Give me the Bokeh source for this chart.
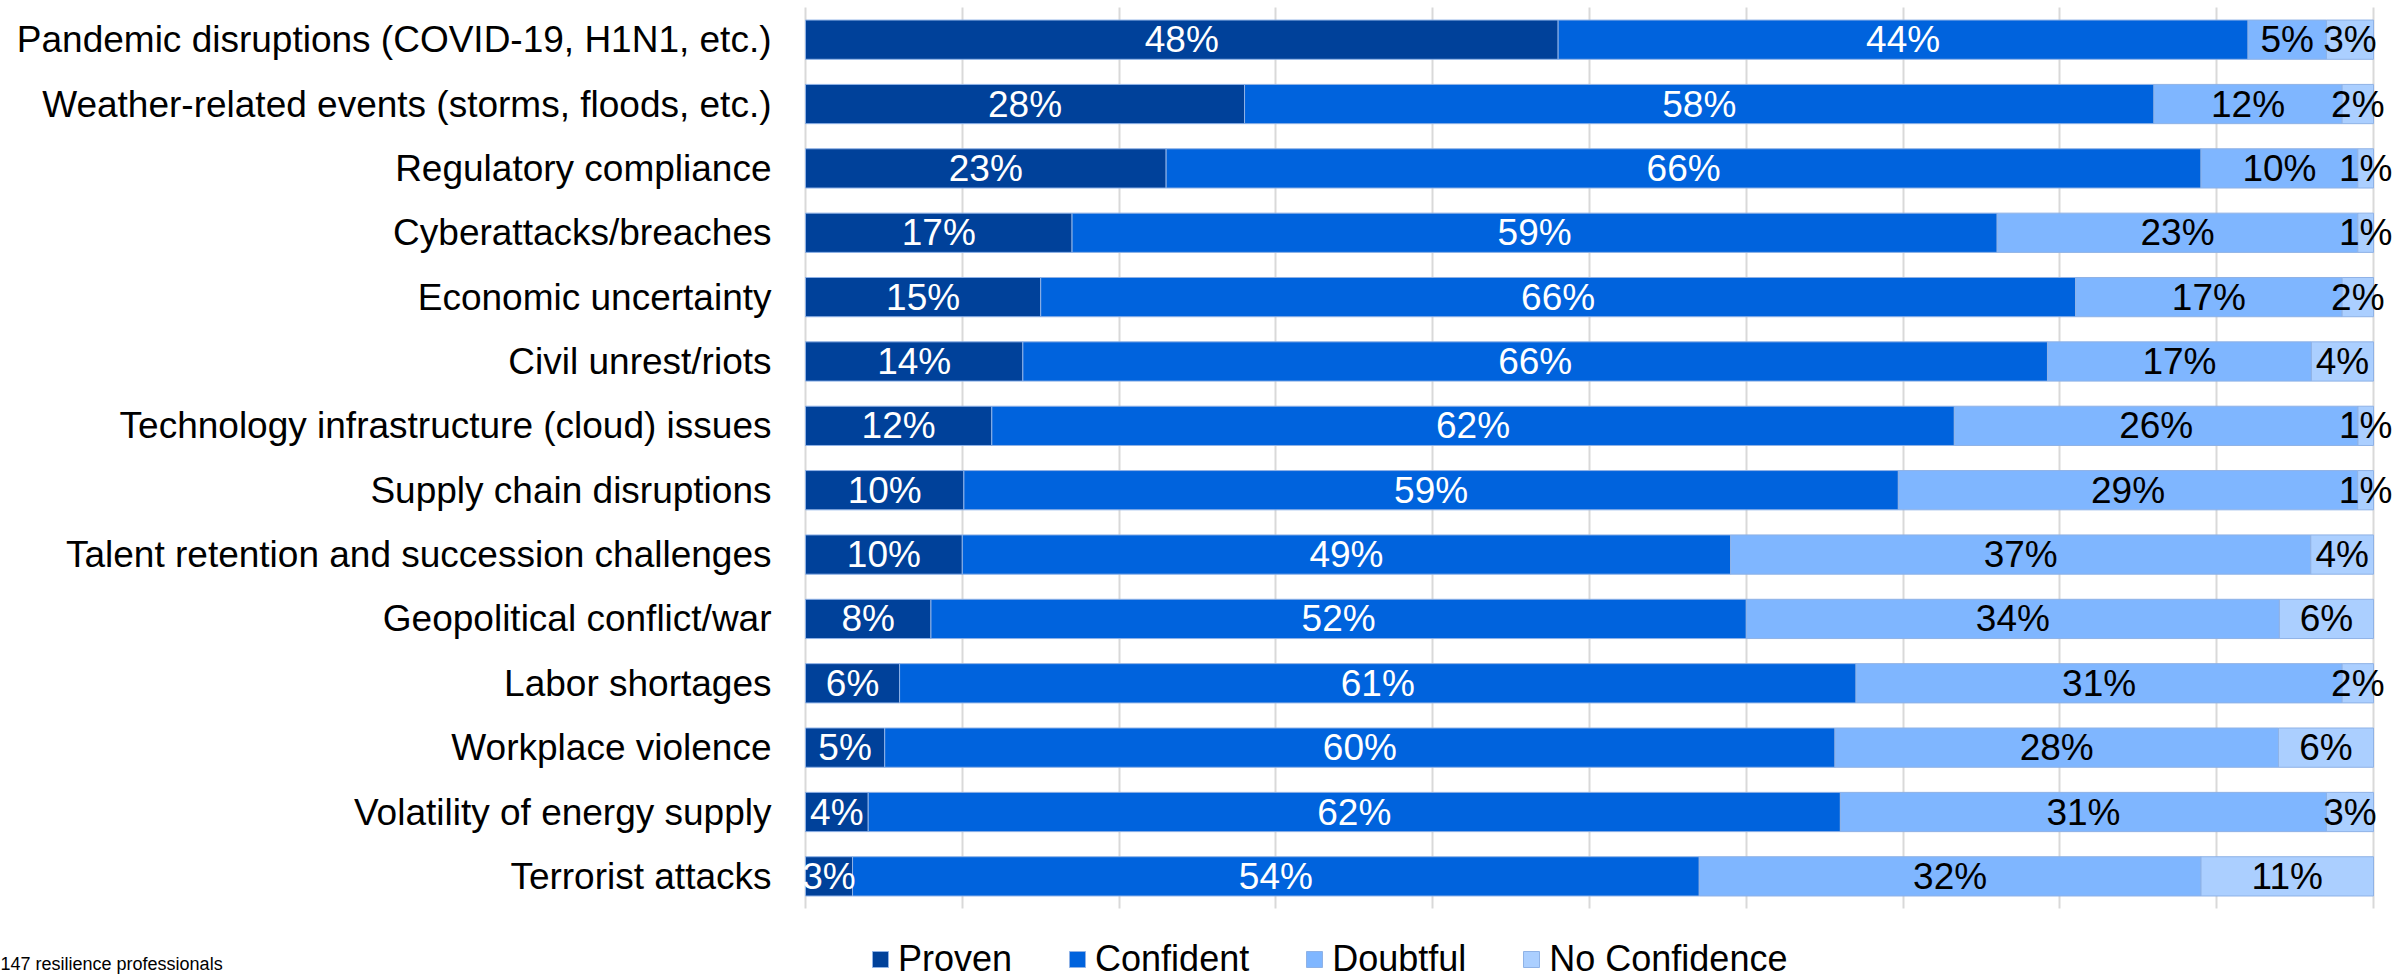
from bokeh.plotting import figure
from bokeh.models import (ColumnDataSource, Range1d, Grid, FixedTicker,
                          Legend, LegendItem, Label)
from bokeh.core.properties import value
from bokeh.embed import file_html
from bokeh.resources import INLINE

categories = [
    "Pandemic disruptions (COVID-19, H1N1, etc.)",
    "Weather-related events (storms, floods, etc.)",
    "Regulatory compliance",
    "Cyberattacks/breaches",
    "Economic uncertainty",
    "Civil unrest/riots",
    "Technology infrastructure (cloud) issues",
    "Supply chain disruptions",
    "Talent retention and succession challenges",
    "Geopolitical conflict/war",
    "Labor shortages",
    "Workplace violence",
    "Volatility of energy supply",
    "Terrorist attacks",
]
proven = [48, 28, 23, 17, 15, 14, 12, 10, 10, 8, 6, 5, 4, 3]
confident = [44, 58, 66, 59, 66, 66, 62, 59, 49, 52, 61, 60, 62, 54]
doubtful = [5, 12, 10, 23, 17, 17, 26, 29, 37, 34, 31, 28, 31, 32]
no_confidence = [3, 2, 1, 1, 2, 4, 1, 1, 4, 6, 2, 6, 3, 11]

series_names = ["Proven", "Confident", "Doubtful", "No Confidence"]
series_values = [proven, confident, doubtful, no_confidence]
colors = ["#00419A", "#0063DD", "#7FB6FF", "#ABCFFF"]
label_colors = ["white", "white", "black", "black"]
footnote = "147 resilience professionals"
grid_ticks = list(range(0, 101, 10))

FONT = "Liberation Sans"

W, H = 2397, 978
PLOT_LEFT, PLOT_RIGHT, PLOT_TOP = 805, 2373, 7
ROW = 64.36  # px per category row

n = len(categories)
px_per_pct = (PLOT_RIGHT - PLOT_LEFT) / 100.0
x_start = -PLOT_LEFT / px_per_pct
x_end = (W - PLOT_LEFT) / px_per_pct
y_end = n + PLOT_TOP / ROW
y_start = n - (H - PLOT_TOP) / ROW

# normalise each row to 100 % (100% stacked bar)
totals = [sum(vals) for vals in zip(*series_values)]
ypos = [n - j - 0.5 for j in range(n)]  # first category on top
data = {"y": ypos, "cat": categories}
keys = []
for name, vals in zip(series_names, series_values):
    k = name.replace(" ", "_")
    keys.append(k)
    data[k] = [v / t * 100 for v, t in zip(vals, totals)]
source = ColumnDataSource(data)

p = figure(width=W, height=H, output_backend="svg", toolbar_location=None,
           x_range=Range1d(x_start, x_end), y_range=Range1d(y_start, y_end),
           x_axis_location=None, y_axis_location=None, min_border=0)
p.outline_line_color = None
p.background_fill_color = "white"
for g in list(p.grid):
    g.visible = False

grid = Grid(dimension=0, ticker=FixedTicker(ticks=grid_ticks),
            bounds=(0, 100), cross_bounds=(0, n),
            grid_line_color="#D9D9D9", grid_line_width=2)
p.add_layout(grid)

renderers = p.hbar_stack(keys, y="y", height=0.61, source=source,
                         color=colors, line_color="#8FB2E6", line_width=1)

# category labels (left of the bars)
p.text(x=0, y="y", text="cat", source=source, x_offset=-34, text_align="right",
       text_baseline="middle", text_font=value(FONT), text_font_size="37px",
       text_color="black")

# data labels centred on each segment
for i, (name, vals) in enumerate(zip(series_names, series_values)):
    xs, txt = [], []
    for j in range(n):
        left = sum(data[k][j] for k in keys[:i])
        xs.append(left + data[keys[i]][j] / 2)
        txt.append(f"{vals[j]}%")
    src = ColumnDataSource(dict(x=xs, y=ypos, t=txt))
    p.text(x="x", y="y", text="t", source=src, text_align="center",
           text_baseline="middle", text_font=value(FONT), text_font_size="37px",
           text_color=label_colors[i])

legend = Legend(items=[LegendItem(label=nm, renderers=[r]) for nm, r in zip(series_names, renderers)],
                orientation="horizontal", location=(870, -2),
                glyph_width=20, glyph_height=20, label_standoff=8, spacing=55,
                padding=0, margin=0, border_line_color=None, background_fill_alpha=0,
                label_text_font=FONT, label_text_font_size="36px", label_text_color="black")
p.add_layout(legend)

p.add_layout(Label(x=0, y=15, x_units="screen", y_units="screen", text=footnote,
                   text_font=FONT, text_font_size="18px", text_baseline="middle",
                   text_align="left", text_color="black"))

open("out.html", "w").write(file_html(p, INLINE))
